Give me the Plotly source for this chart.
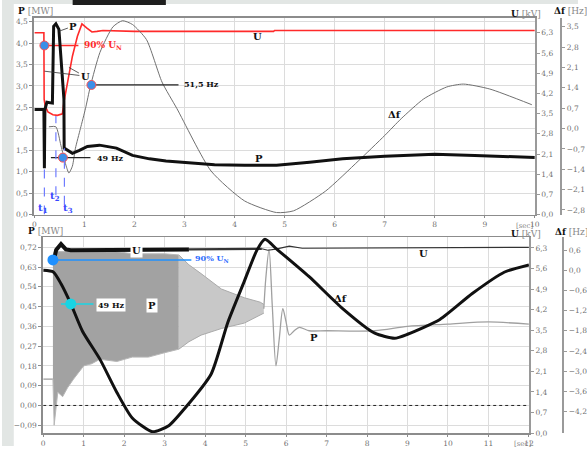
import plotly.graph_objects as go

W, H = 587, 451

# ================= TOP CHART (0..10 s) =================
top_x_ticks = list(range(0, 11))
top_P_ticks = [0.0, 0.5, 1.0, 1.5, 2.0, 2.5, 3.0, 3.5, 4.0, 4.5]
top_U_ticks = [0.0, 0.7, 1.4, 2.1, 2.8, 3.5, 4.2, 4.9, 5.6, 6.3]
top_df_ticks = [-2.8, -2.1, -1.4, -0.7, 0.0, 0.7, 1.4, 2.1, 2.8, 3.5]

# Active power P [MW]
top_t_P = [0, 0.19, 0.2, 0.21, 0.25, 0.36, 0.385, 0.43, 0.49, 0.56, 0.59, 0.595, 0.66, 0.76, 0.9,
           1.06, 1.3, 1.64, 1.96, 2.3, 2.63, 3.27, 3.6, 4.2, 4.84, 5.5, 6.16, 7.0, 8.0, 8.8, 10.0]
top_P = [2.45, 2.45, 1.08, 2.45, 2.62, 2.6, 4.39, 4.45, 4.32, 3.23, 2.7, 1.55, 1.5, 1.43, 1.5,
         1.59, 1.62, 1.55, 1.38, 1.3, 1.25, 1.2, 1.16, 1.15, 1.15, 1.22, 1.3, 1.36, 1.41, 1.38, 1.33]

# Voltage U [kV]
top_t_U = [0, 0.19, 0.195, 0.215, 0.27, 0.37, 0.46, 0.56, 0.59, 0.66, 0.76, 0.86, 0.95, 1.05,
           1.15, 1.25, 1.37, 2.0, 4.78, 4.8, 10.0]
top_U = [6.3, 6.3, 4.0, 3.77, 3.56, 3.46, 3.44, 3.49, 3.9, 4.59, 5.49, 6.18, 6.61, 6.46,
         6.33, 6.35, 6.38, 6.35, 6.35, 6.38, 6.38]

# Frequency deviation Δf [Hz]
top_t_df = [0.29, 0.43, 0.53, 0.63, 0.69, 0.76, 0.82, 0.92, 1.02, 1.12, 1.31, 1.57, 1.76, 1.96, 2.24,
            2.55, 2.85, 3.53, 4.2, 4.84, 5.18, 5.82, 6.47, 7.0, 7.33, 7.78, 8.24, 8.57, 9.1, 9.94]
top_df = [0.06, 0.06, -0.58, -1.26, -1.53, -1.29, -0.68, 0.0, 0.68, 1.46, 2.62, 3.5, 3.71, 3.58, 3.06,
          1.6, 0.68, -1.46, -2.49, -2.89, -2.83, -2.15, -1.12, -0.24, 0.34, 1.02, 1.43, 1.53, 1.36, 0.82]

# markers / event times
top_t_events = [0.2, 0.43, 0.6]
top_event_P_low = [0.0, 0.45, 0.23]
top_event_P_high = [1.08, 2.3, 1.55]
top_90_t = [0.2, 0.88]
top_90_U = 5.86
top_515_t = [1.14, 2.88]
top_515_df = 1.5
top_49_t = [0.33, 1.12]
top_49_mark_t = 0.57
top_49_df = -1.0

# ================= BOTTOM CHART (0..12 s) =================
bot_x_ticks = list(range(0, 13))
bot_P_ticks = [-0.09, 0.0, 0.09, 0.18, 0.27, 0.36, 0.45, 0.54, 0.63, 0.72]
bot_U_ticks = [0.0, 0.7, 1.4, 2.1, 2.8, 3.5, 4.2, 4.9, 5.6, 6.3]
bot_df_ticks = [-4.2, -3.6, -3.0, -2.4, -1.8, -1.2, -0.6, 0.0, 0.6]

bot_t_df = [0, 0.25, 0.44, 0.68, 0.97, 1.4, 1.82, 2.2, 2.7, 3.1, 3.5, 4.15, 4.56, 4.96, 5.28, 5.48,
            5.77, 6.57, 7.39, 8.19, 8.68, 9.0, 9.8, 10.6, 11.4, 12.0]
bot_df = [0.0, -0.05, -0.4, -0.99, -1.81, -2.64, -3.63, -4.39, -4.8, -4.62, -4.1, -3.08, -1.55, -0.35,
          0.6, 0.92, 0.63, -0.19, -1.13, -1.87, -2.02, -1.9, -1.46, -0.69, -0.05, 0.16]

# P oscillation envelope (dense part)
bot_band1_t = [0.24, 0.27, 0.36, 0.48, 0.6, 0.75, 1.0, 1.2, 1.4, 1.82, 2.2, 2.6, 3.0, 3.35]
bot_band1_hi = [0.66, 0.70, 0.70, 0.70, 0.70, 0.70, 0.70, 0.70, 0.70, 0.70, 0.69, 0.69, 0.69, 0.685]
bot_band1_lo = [0.12, -0.09, 0.06, 0.04, 0.08, 0.12, 0.18, 0.19, 0.21, 0.20, 0.22, 0.22, 0.24, 0.256]
# P oscillation envelope (decaying part)
bot_band2_t = [3.35, 3.6, 3.9, 4.2, 4.4, 4.97, 5.36, 5.45]
bot_band2_hi = [0.685, 0.64, 0.60, 0.56, 0.53, 0.49, 0.47, 0.46]
bot_band2_lo = [0.256, 0.29, 0.32, 0.34, 0.35, 0.375, 0.41, 0.42]
# P after oscillation
bot_P_t = [5.45, 5.5, 5.58, 5.66, 5.75, 5.83, 5.92, 6.0, 6.08, 6.2, 6.33, 6.57, 7.0, 8.19, 9.0, 10.0, 11.0, 12.0]
bot_P = [0.44, 0.58, 0.71, 0.45, 0.18, 0.30, 0.44, 0.38, 0.32, 0.34, 0.355, 0.34, 0.34, 0.34, 0.36, 0.37, 0.38, 0.37]
bot_P_pre_t = [0, 0.24]
bot_P_pre = [0.12, 0.12]

# Voltage U
bot_U1_t = [0.27, 0.32, 0.44, 0.56, 0.68, 1.5, 2.5, 3.6]
bot_U1 = [5.92, 6.23, 6.43, 6.25, 6.22, 6.23, 6.24, 6.25]
bot_U2_t = [3.6, 4.4, 5.4]
bot_U2 = [6.25, 6.27, 6.27]
bot_U3_t = [5.4, 5.55, 5.75, 6.08, 6.4, 9.0, 12.0]
bot_U3 = [6.27, 6.22, 6.26, 6.36, 6.29, 6.3, 6.32]

bot_90_t = [0.24, 3.66]
bot_90_U = 5.89
bot_49_t = [0.44, 1.24]
bot_49_mark_t = 0.68
bot_49_df = -1.0

# ------------------------------------------------------------
def px(x):
    return x / W

def py(y):
    return 1 - y / H

SERIF = "DejaVu Serif"
tickfont = dict(family=SERIF, size=7.5, color="#707070")
AX = "#8c8c8c"
GRID = "#dcdcdc"

fig = go.Figure()
skip = "skip"

# ---------- top traces ----------
fig.add_trace(go.Scatter(x=top_t_df, y=top_df, xaxis="x", yaxis="y3", mode="lines",
                         line=dict(color="#707070", width=1, shape="spline", smoothing=0.6), hoverinfo=skip))
fig.add_trace(go.Scatter(x=top_t_U, y=top_U, xaxis="x", yaxis="y2", mode="lines",
                         line=dict(color="#ff2a2a", width=1.6), hoverinfo=skip))
fig.add_trace(go.Scatter(x=top_t_P, y=top_P, xaxis="x", yaxis="y7", mode="lines",
                         line=dict(color="#111111", width=3), hoverinfo=skip))
fig.add_trace(go.Scatter(x=top_90_t, y=[top_90_U] * 2, xaxis="x", yaxis="y2", mode="lines",
                         line=dict(color="#ff2a2a", width=1.6), hoverinfo=skip))
fig.add_trace(go.Scatter(x=top_515_t, y=[top_515_df] * 2, xaxis="x", yaxis="y3", mode="lines",
                         line=dict(color="#222", width=1.2), hoverinfo=skip))
fig.add_trace(go.Scatter(x=top_49_t, y=[top_49_df] * 2, xaxis="x", yaxis="y3", mode="lines",
                         line=dict(color="#222", width=1.2), hoverinfo=skip))
fig.add_trace(go.Scatter(x=[top_90_t[0]], y=[top_90_U], xaxis="x", yaxis="y2", mode="markers",
                         marker=dict(color="#3b8fe8", size=9, line=dict(color="#ff5050", width=1)), hoverinfo=skip))
fig.add_trace(go.Scatter(x=[top_515_t[0], top_49_mark_t], y=[top_515_df, top_49_df], xaxis="x", yaxis="y3",
                         mode="markers", marker=dict(color="#3b8fe8", size=9, line=dict(color="#ff5050", width=1)),
                         hoverinfo=skip))

# ---------- bottom traces ----------
fig.add_trace(go.Scatter(x=bot_P_pre_t, y=bot_P_pre, xaxis="x2", yaxis="y4", mode="lines",
                         line=dict(color="#9a9a9a", width=1.2), hoverinfo=skip))
fig.add_trace(go.Scatter(x=bot_band1_t, y=bot_band1_lo, xaxis="x2", yaxis="y4", mode="lines",
                         line=dict(color="#b8b8b8", width=1), hoverinfo=skip))
fig.add_trace(go.Scatter(x=bot_band1_t, y=bot_band1_hi, xaxis="x2", yaxis="y4", mode="lines", fill="tonexty",
                         fillcolor="#a2a2a2", line=dict(color="#b8b8b8", width=1), hoverinfo=skip))
fig.add_trace(go.Scatter(x=bot_band2_t, y=bot_band2_lo, xaxis="x2", yaxis="y4", mode="lines",
                         line=dict(color="#aaaaaa", width=1), hoverinfo=skip))
fig.add_trace(go.Scatter(x=bot_band2_t, y=bot_band2_hi, xaxis="x2", yaxis="y4", mode="lines", fill="tonexty",
                         fillcolor="#c8c8c8", line=dict(color="#aaaaaa", width=1), hoverinfo=skip))
fig.add_trace(go.Scatter(x=bot_P_t, y=bot_P, xaxis="x2", yaxis="y4", mode="lines",
                         line=dict(color="#a0a0a0", width=1.3, shape="spline", smoothing=0.8), hoverinfo=skip))

fig.add_trace(go.Scatter(x=bot_U1_t, y=bot_U1, xaxis="x2", yaxis="y5", mode="lines",
                         line=dict(color="#111", width=4), hoverinfo=skip))
fig.add_trace(go.Scatter(x=bot_U2_t, y=bot_U2, xaxis="x2", yaxis="y5", mode="lines",
                         line=dict(color="#333", width=2.2), hoverinfo=skip))
fig.add_trace(go.Scatter(x=bot_U3_t, y=bot_U3, xaxis="x2", yaxis="y5", mode="lines",
                         line=dict(color="#333", width=1.1), hoverinfo=skip))
fig.add_trace(go.Scatter(x=bot_90_t, y=[bot_90_U] * 2, xaxis="x2", yaxis="y5", mode="lines",
                         line=dict(color="#1e90ff", width=1.4), hoverinfo=skip))
fig.add_trace(go.Scatter(x=[bot_90_t[0]], y=[bot_90_U], xaxis="x2", yaxis="y5", mode="markers",
                         marker=dict(color="#1e90ff", size=11), hoverinfo=skip))

fig.add_trace(go.Scatter(x=bot_t_df, y=bot_df, xaxis="x2", yaxis="y6", mode="lines",
                         line=dict(color="#111", width=3, shape="spline", smoothing=0.6), hoverinfo=skip))
fig.add_trace(go.Scatter(x=bot_49_t, y=[bot_49_df] * 2, xaxis="x2", yaxis="y6", mode="lines",
                         line=dict(color="#18d4e4", width=1.4), hoverinfo=skip))
fig.add_trace(go.Scatter(x=[bot_49_mark_t], y=[bot_49_df], xaxis="x2", yaxis="y6", mode="markers",
                         marker=dict(color="#18d4e4", size=11), hoverinfo=skip))

# ---------- axes ----------
def base_x(domain, anchor, rng, ticks):
    return dict(domain=domain, anchor=anchor, range=rng, tickvals=ticks, tickfont=tickfont,
                showline=True, linecolor=AX, linewidth=1.5, mirror=True, ticks="outside", ticklen=2,
                tickcolor=AX, showgrid=True, gridcolor=GRID, gridwidth=1, zeroline=False, fixedrange=True)

def left_y(domain, anchor, rng, ticks, fmt):
    return dict(domain=domain, anchor=anchor, range=rng, tickvals=ticks, tickformat=fmt, tickfont=tickfont,
                showline=True, linecolor=AX, linewidth=2, ticks="outside", ticklen=3, tickcolor=AX,
                showgrid=True, gridcolor=GRID, gridwidth=1, zeroline=False, fixedrange=True)

def right_y(over, anchor, rng, ticks, fmt, position=None):
    d = dict(overlaying=over, side="right", range=rng, tickvals=ticks, tickformat=fmt, tickfont=tickfont,
             showline=True, linecolor="#9a9a9a", linewidth=2, ticks="outside", ticklen=3, tickcolor="#9a9a9a",
             showgrid=False, zeroline=False, fixedrange=True)
    if position is None:
        d["anchor"] = anchor
    else:
        d["anchor"] = "free"
        d["position"] = position
    return d

top_dom_y = [py(217), py(18)]
bot_dom_y = [py(438), py(240)]
P_top_rng = [0, 4.59]

fig.update_layout(
    width=W, height=H, autosize=False, margin=dict(l=0, r=0, t=0, b=0),
    paper_bgcolor="white", plot_bgcolor="white", showlegend=False, separators=", ",
    xaxis=base_x([px(33), px(543)], "y", [0, 10], top_x_ticks),
    yaxis=left_y(top_dom_y, "x", P_top_rng, top_P_ticks, ".1f"),
    yaxis2=right_y("y", "x", [0, 6.82], top_U_ticks, ".1f"),
    yaxis3=right_y("y", "x", [-2.96, 3.81], top_df_ticks, ".1f", position=px(570)),
    yaxis7=dict(overlaying="y", anchor="x", range=P_top_rng, visible=False, fixedrange=True),
    xaxis2=base_x([px(42), px(537)], "y4", [0, 12], bot_x_ticks),
    yaxis4=left_y(bot_dom_y, "x2", [-0.126, 0.765], bot_P_ticks, ".2f"),
    yaxis5=right_y("y4", "x2", [0, 6.66], bot_U_ticks, ".1f"),
    yaxis6=right_y("y4", "x2", [-4.84, 0.98], bot_df_ticks, ".1f", position=px(572)),
)

# ---------- shapes ----------
shapes = [
    dict(type="rect", xref="paper", yref="paper", x0=0, x1=px(12), y0=0, y1=1,
         fillcolor="#e2e6e4", line=dict(width=0), layer="below"),
    dict(type="rect", xref="paper", yref="paper", x0=0, x1=1, y0=py(4), y1=1,
         fillcolor="#e2e6e4", line=dict(width=0), layer="below"),
    dict(type="rect", xref="paper", yref="paper", x0=px(72), x1=px(167), y0=py(5), y1=1,
         fillcolor="#1e1e1e", line=dict(width=0), layer="above"),
    dict(type="line", xref="x2", yref="y4", x0=0, x1=12, y0=0, y1=0,
         line=dict(color="#222", width=1, dash="dot")),
]
for tx, lo, hi in zip(top_t_events, top_event_P_low, top_event_P_high):
    shapes.append(dict(type="line", xref="x", yref="y", x0=tx, x1=tx, y0=lo, y1=hi,
                       line=dict(color="#6f7cff", width=1.2, dash="dash")))
fig.update_layout(shapes=shapes)

# ---------- annotations ----------
ann = []

def label(x, y, text, size=10, color="#111", xanchor="center", bg=None):
    d = dict(xref="paper", yref="paper", x=px(x), y=py(y), text=text, showarrow=False,
             xanchor=xanchor, yanchor="middle", font=dict(family=SERIF, size=size, color=color))
    if bg:
        d["bgcolor"] = bg
        d["borderpad"] = 1
    ann.append(d)

# axis titles
label(14, 11, "<b>P</b> <span style='color:#888'>[MW]</span>", 9, xanchor="left")
label(534, 14, "<b>U</b> <span style='color:#888'>[kV]</span>", 9)
label(561, 11, "<b>Δf</b> <span style='color:#888'>[Hz]</span>", 9, xanchor="left")
label(532, 229, "<span style='color:#888'>[sec]</span>", 7)
label(24, 234, "<b>P</b> <span style='color:#888'>[MW]</span>", 9, xanchor="left")
label(534, 237, "<b>U</b> <span style='color:#888'>[kV]</span>", 9)
label(562, 235, "<b>Δf</b> <span style='color:#888'>[Hz]</span>", 9, xanchor="left")
label(530, 449, "<span style='color:#888'>[sec]</span>", 7)

# top chart labels
label(82, 46, "<b>90% U<sub>N</sub></b>", 9, color="#ff2a2a", xanchor="left")
label(183, 85, "<b>51,5 Hz</b>", 8, xanchor="left")
label(95, 160, "<b>49 Hz</b>", 8, xanchor="left")
label(260, 37, "<b>U</b>", 10)
label(262, 160, "<b>P</b>", 10)
label(400, 116, "<b>Δf</b>", 10)
label(42, 211, "<b>t<sub>1</sub></b>", 10, color="#3848ff")
label(54, 199, "<b>t<sub>2</sub></b>", 10, color="#3848ff")
label(67, 211, "<b>t<sub>3</sub></b>", 10, color="#3848ff")

# leader lines (P and U) in top chart
ann.append(dict(xref="x", yref="y7", x=0.5, y=4.28, text="<b>P</b>", showarrow=True, arrowhead=0,
                arrowwidth=0.8, arrowcolor="#333", ax=14, ay=-5, font=dict(family=SERIF, size=10, color="#111")))
ann.append(dict(xref="x", yref="y2", x=0.2, y=4.97, text="<b>U</b>", showarrow=True, arrowhead=0,
                arrowwidth=0.8, arrowcolor="#333", ax=41, ay=5, font=dict(family=SERIF, size=10, color="#111")))
ann.append(dict(xref="x", yref="y2", x=0.69, y=5.1, text="<b>U</b>", showarrow=True, arrowhead=0,
                arrowwidth=0.8, arrowcolor="#333", ax=16, ay=9,
                font=dict(family=SERIF, size=10, color="rgba(0,0,0,0)")))

# bottom chart labels
label(137, 253, "<b>U</b>", 10, bg="white")
label(195, 261, "<b>90% U<sub>N</sub></b>", 8, color="#2a6cff", xanchor="left")
label(111, 308, "<b>49 Hz</b>", 8, bg="white")
label(153, 309, "<b>P</b>", 10, bg="white")
label(345, 302, "<b>Δf</b>", 10)
label(318, 341, "<b>P</b>", 10)
label(430, 256, "<b>U</b>", 10)

fig.update_layout(annotations=ann)

fig.write_html("out.html", config={"displayModeBar": False, "staticPlot": True},
               post_script="document.body.style.margin='0';document.body.style.overflow='hidden';")
